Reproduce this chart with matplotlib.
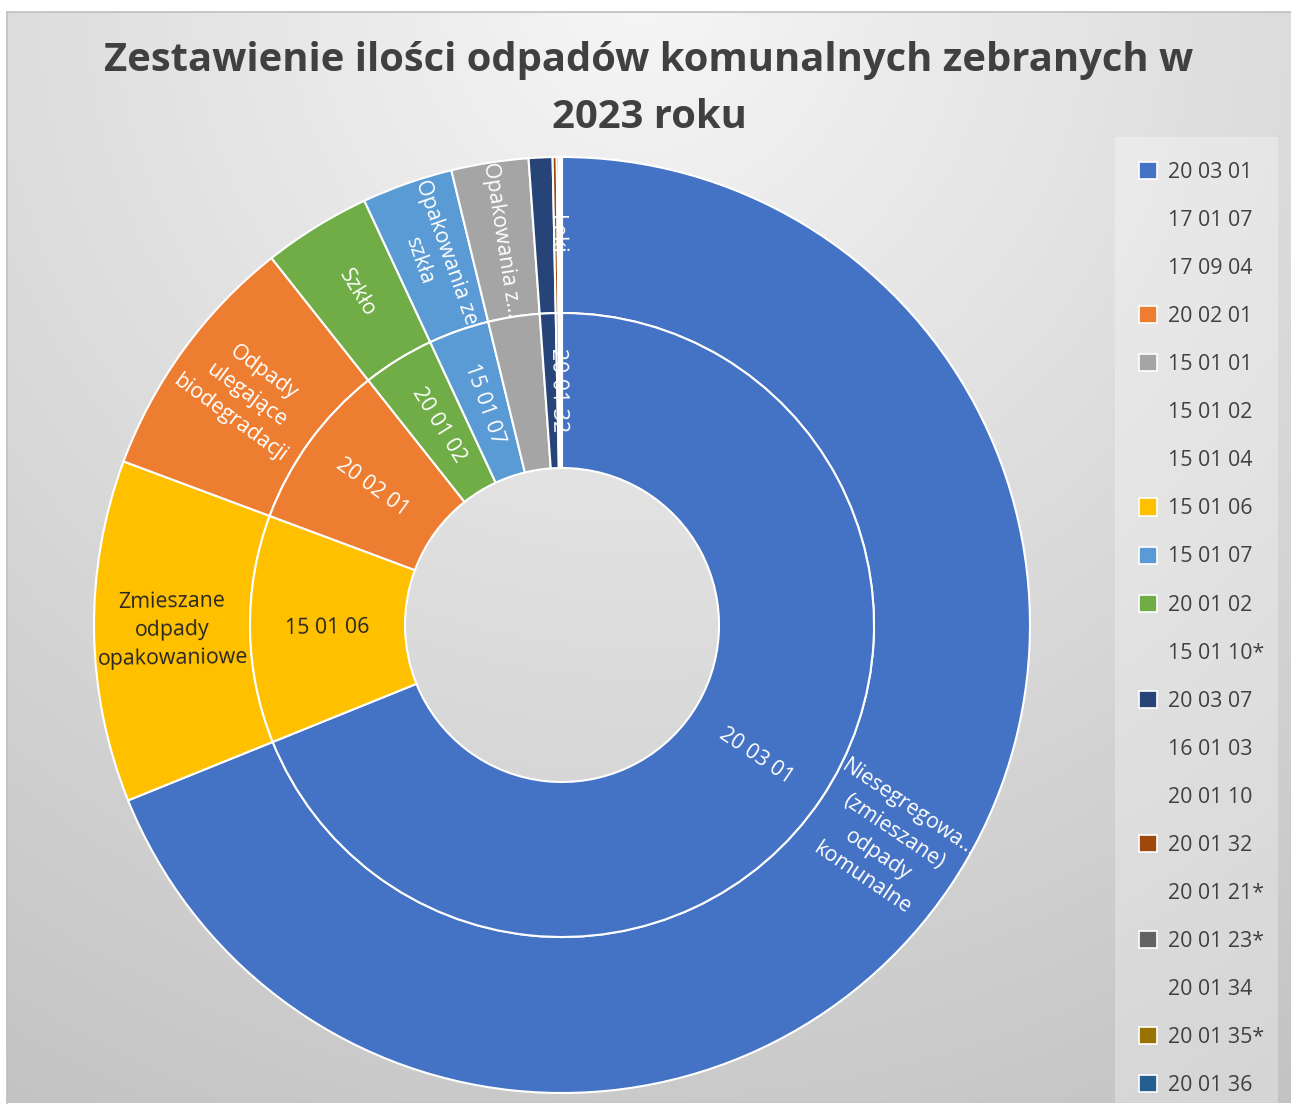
import numpy as np
import matplotlib
matplotlib.use('Agg')
import matplotlib.pyplot as plt
from matplotlib.patches import Patch, Rectangle

plt.rcParams['font.family'] = ['Open Sans', 'DejaVu Sans']

# ---------------- data (legend / source order) ----------------
title_lines = ['Zestawienie ilości odpadów komunalnych zebranych w', '2023 roku']

codes = ['20 03 01', '17 01 07', '17 09 04', '20 02 01', '15 01 01', '15 01 02',
         '15 01 04', '15 01 06', '15 01 07', '20 01 02', '15 01 10*', '20 03 07',
         '16 01 03', '20 01 10', '20 01 32', '20 01 21*', '20 01 23*', '20 01 34',
         '20 01 35*', '20 01 36']
values = [3445, 0, 0, 433, 133, 0,
          0, 590, 157, 186, 0, 41,
          0, 0, 7, 0, 4, 0,
          3, 2]
names = ['Niesegregowa…\n(zmieszane)\nodpady\nkomunalne', '', '',
         'Odpady\nulegające\nbiodegradacji', 'Opakowania z…', '',
         '', 'Zmieszane\nodpady\nopakowaniowe', 'Opakowania ze\nszkła', 'Szkło', '', '',
         '', '', 'Leki', '', '', '',
         '', '']
inner_labeled = ['20 03 01', '15 01 06', '20 02 01', '20 01 02', '15 01 07', '20 01 32']

palette = ['#4472C4', '#ED7D31', '#A5A5A5', '#FFC000', '#5B9BD5', '#70AD47',
           '#264478', '#9E480E', '#636363', '#997300', '#255E91', '#43682B']
dark_text_colors = ['#FFC000']

# ---------------- figure ----------------
W, H = 1291, 1104
fig = plt.figure(figsize=(W / 100, H / 100), dpi=100)
fig.patch.set_facecolor('white')

# background gradient panel
bg = fig.add_axes([0, 0, 1, 1], zorder=-10)
yy, xx = np.mgrid[0:H, 0:W]
d = np.hypot(xx - 640, (yy - 0) * 1.0)
g = np.clip(246 - 0.04 * d, 190, 250) / 255.0
img = np.dstack([g, g, g])
outside = (xx < 7) | (yy < 12) | (yy > 1102)
img[outside] = 1.0
bg.imshow(img, extent=[0, W, H, 0], aspect='auto', interpolation='bilinear')
bg.plot([7, W], [12, 12], color='#BFBFBF', lw=1.2)
bg.plot([7, 7], [12, 1103], color='#BFBFBF', lw=1.2)
bg.set_xlim(0, W)
bg.set_ylim(H, 0)
bg.axis('off')

# legend box
bg.add_patch(Rectangle((1115, 137), 163, 966, facecolor='white', alpha=0.3,
                       edgecolor='none'))

# title
TFS = 28.8
fig.text(649 / W, 1 - 60 / H, title_lines[0], ha='center', va='center',
         fontsize=TFS, fontweight='bold', color='#404040')
fig.text(649 / W, 1 - 117 / H, title_lines[1], ha='center', va='center',
         fontsize=TFS, fontweight='bold', color='#404040')

# colours by non-zero order
color_of = {}
k = 0
for c, v in zip(codes, values):
    if v > 0:
        color_of[c] = palette[k % len(palette)]
        k += 1

# pie order: descending by value
order = sorted([i for i, v in enumerate(values) if v > 0], key=lambda i: -values[i])
p_codes = [codes[i] for i in order]
p_vals = [values[i] for i in order]
p_names = [names[i] for i in order]
p_cols = [color_of[c] for c in p_codes]

cx, cy, R = 562, 625, 468
ax = fig.add_axes([(cx - R) / W, (H - cy - R) / H, 2 * R / W, 2 * R / H])
r_in_outer = 312 / R
r_hole = 157 / R

wp = dict(edgecolor='white', linewidth=1.5)
outer, _ = ax.pie(p_vals, radius=1.0, startangle=90, counterclock=False,
                  colors=p_cols, wedgeprops=dict(width=1.0 - r_in_outer, **wp))
inner, _ = ax.pie(p_vals, radius=r_in_outer, startangle=90, counterclock=False,
                  colors=p_cols, wedgeprops=dict(width=r_in_outer - r_hole, **wp))
ax.set_xlim(-1, 1)
ax.set_ylim(-1, 1)
ax.axis('off')


def rot_for(phi):
    phi = (phi + 180) % 360 - 180
    if np.cos(np.radians(phi)) < 0:
        phi = phi + 180
    return (phi + 180) % 360 - 180


FS = 15.4
for w, c, col in zip(inner, p_codes, p_cols):
    mid = (w.theta1 + w.theta2) / 2
    rot = rot_for(mid)
    tc = '#262626' if col in dark_text_colors else 'white'
    if c in inner_labeled:
        r = (r_in_outer + r_hole) / 2
        ax.text(r * np.cos(np.radians(mid)), r * np.sin(np.radians(mid)), c,
                ha='center', va='center', rotation=rot, rotation_mode='anchor',
                fontsize=FS, color=tc)
for w, n, col in zip(outer, p_names, p_cols):
    if not n:
        continue
    mid = (w.theta1 + w.theta2) / 2
    rot = rot_for(mid)
    tc = '#262626' if col in dark_text_colors else 'white'
    r = (1.0 + r_in_outer) / 2
    ax.text(r * np.cos(np.radians(mid)), r * np.sin(np.radians(mid)), n,
            ha='center', va='center', rotation=rot, rotation_mode='anchor',
            fontsize=FS, color=tc, multialignment='center', linespacing=1.45)

# legend
handles = []
for c, v in zip(codes, values):
    if v > 0:
        handles.append(Patch(facecolor=color_of[c], edgecolor='white', linewidth=1.2))
    else:
        handles.append(Patch(facecolor='none', edgecolor='none'))
leg = fig.legend(handles, codes, loc='upper left',
                 bbox_to_anchor=(1139 / W, 1 - 162 / H), frameon=False,
                 fontsize=FS, labelcolor='#404040', handlelength=0.85,
                 handleheight=0.85, handletextpad=0.5, labelspacing=1.265,
                 borderpad=0, borderaxespad=0)

fig.savefig('out.png', dpi=100)
